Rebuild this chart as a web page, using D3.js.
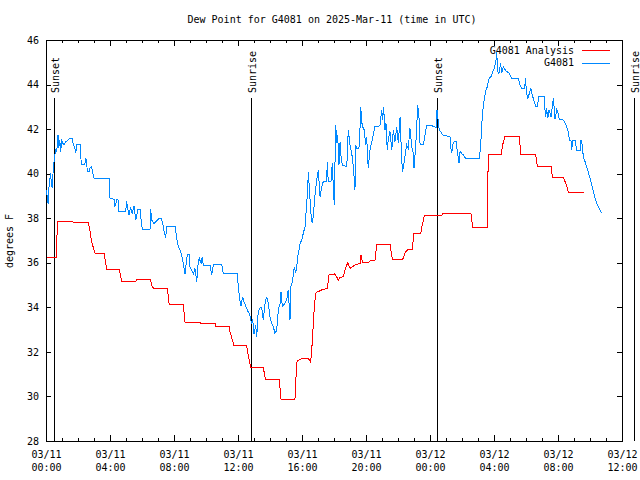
<!DOCTYPE html>
<html><head><meta charset="utf-8">
<script src="https://cdn.jsdelivr.net/npm/d3@7/dist/d3.min.js"></script>
<style>body{margin:0;background:#fff}svg{display:block}</style>
</head><body>
<svg id="c" width="640" height="480"></svg>
<script>
const chartTitle = "Dew Point for G4081 on 2025-Mar-11 (time in UTC)";
const yAxisLabel = "degrees F";
const seriesNames = ["G4081 Analysis", "G4081"];
const seriesColors = ["#ff0000", "#0088ff"];
const yTickValues = [28, 30, 32, 34, 36, 38, 40, 42, 44, 46];
const xMajorHours = [0, 4, 8, 12, 16, 20, 24, 28, 32, 36];
const eventNames = ["Sunset", "Sunrise", "Sunset", "Sunrise"];
const eventHours = [0.52, 12.83, 24.46, 36.77];

// hours since 2025-03-11 00:00 UTC
const anaHours = [0.04,0.64,0.68,0.71,1.64,1.71,2.64,2.71,2.85,3.06,3.63,3.79,4.58,4.73,5.63,5.65,6.54,6.62,6.75,7.58,7.7,8.58,8.69,9.63,9.65,10.58,10.6,11.46,11.5,11.65,11.75,12.54,12.65,12.81,13.58,13.73,14.58,14.69,15.56,15.67,15.73,16.0,16.39,16.54,16.67,16.71,16.81,16.88,17.23,17.58,17.69,18.06,18.27,18.38,18.58,18.69,18.86,19.0,19.31,19.63,19.69,19.79,20.14,20.31,20.56,20.67,21.5,21.65,22.29,22.48,22.64,22.89,23.0,23.42,23.52,23.64,24.69,24.83,26.56,26.67,27.58,27.64,28.44,28.54,28.69,29.58,29.67,30.6,30.71,31.6,31.64,32.33,32.54,32.64,33.63];
const anaValues = [36.23,36.23,37.0,37.87,37.87,37.82,37.82,37.6,36.95,36.43,36.43,35.71,35.71,35.18,35.18,35.23,35.23,34.95,34.85,34.85,34.14,34.14,33.33,33.33,33.29,33.29,33.16,33.16,32.9,32.53,32.28,32.28,31.78,31.29,31.29,30.74,30.74,29.88,29.88,31.53,31.6,31.71,31.71,31.53,32.68,33.43,34.33,34.66,34.78,34.85,35.45,35.5,35.23,35.35,35.37,35.67,36.02,35.75,35.9,35.97,36.35,36.0,36.0,36.12,36.12,36.83,36.83,36.15,36.15,36.5,36.6,36.6,37.32,37.32,37.7,38.1,38.1,38.22,38.22,37.59,37.59,40.84,40.84,41.29,41.69,41.69,40.88,40.87,40.31,40.31,39.82,39.82,39.49,39.16,39.16];

const obsHours = [0.04,0.08,0.13,0.19,0.25,0.29,0.33,0.39,0.46,0.54,0.61,0.67,0.71,0.75,0.79,0.86,0.92,0.98,1.06,1.13,1.23,1.38,1.5,1.64,1.71,1.79,1.86,1.92,2.13,2.21,2.42,2.48,2.54,2.58,2.69,2.75,2.83,2.89,3.0,3.94,4.0,4.25,4.31,4.42,4.5,4.56,4.98,5.04,5.08,5.19,5.29,5.39,5.5,5.61,5.75,5.88,5.92,6.02,6.5,6.54,6.61,6.75,7.06,7.21,7.29,7.39,7.48,7.54,8.06,8.17,8.27,8.38,8.48,8.58,8.69,8.75,8.83,8.94,9.0,9.1,9.21,9.31,9.42,9.52,9.58,9.69,9.77,9.83,10.25,10.35,10.46,10.56,10.98,11.08,11.96,12.02,12.13,12.19,12.29,12.38,12.5,12.58,12.69,12.75,12.86,12.92,13.0,13.11,13.17,13.25,13.33,13.48,13.58,13.69,13.79,13.89,14.0,14.1,14.21,14.31,14.42,14.52,14.63,14.69,14.77,14.94,15.04,15.14,15.25,15.31,15.42,15.52,15.6,15.67,15.73,15.81,15.88,15.98,16.08,16.19,16.25,16.36,16.39,16.46,16.56,16.64,16.71,16.81,16.92,17.02,17.13,17.23,17.33,17.54,17.58,17.64,17.81,17.89,17.96,18.02,18.06,18.11,18.17,18.23,18.31,18.38,18.44,18.52,18.8,18.89,19.0,19.11,19.21,19.31,19.36,19.42,19.56,19.63,19.67,19.73,19.79,19.89,19.98,20.04,20.14,20.25,20.36,20.56,20.77,20.88,20.98,21.04,21.1,21.19,21.25,21.33,21.39,21.5,21.61,21.71,21.81,21.92,22.02,22.13,22.23,22.29,22.39,22.54,22.64,22.75,22.86,22.96,23.0,23.11,23.17,23.23,23.31,23.38,23.58,23.79,24.1,24.21,24.38,24.44,24.52,24.58,24.67,24.73,24.83,25.25,25.29,25.36,25.42,25.5,25.63,25.71,25.81,25.88,25.98,26.08,26.25,27.08,27.17,27.23,27.29,27.38,27.5,27.58,27.64,27.71,27.81,27.92,28.02,28.13,28.17,28.23,28.31,28.42,28.48,28.58,28.75,28.96,29.11,29.52,29.63,29.73,29.92,29.96,30.04,30.11,30.21,30.31,30.39,30.52,30.61,30.73,30.77,31.14,31.19,31.23,31.29,31.36,31.44,31.5,31.56,31.64,31.71,31.77,31.81,31.92,32.02,32.08,32.33,32.44,32.54,32.64,32.71,32.81,32.86,32.92,33.06,33.17,33.38,33.44,33.52,33.58,33.69,33.79,33.89,34.0,34.11,34.21,34.31,34.42,34.52,34.63,34.73];
const obsValues = [39.27,38.9,38.66,39.41,39.79,40.02,39.57,39.34,40.31,40.76,41.06,40.99,41.36,41.73,41.14,41.51,40.99,41.48,41.36,41.29,41.43,41.51,41.59,41.59,41.29,41.21,40.91,41.29,41.29,40.39,40.39,40.69,40.54,40.09,40.09,40.24,40.31,40.16,39.79,39.79,38.9,38.85,38.52,38.82,38.82,38.3,38.3,38.79,38.55,38.14,38.49,38.2,38.55,37.92,38.4,38.4,38.07,37.5,37.5,38.4,37.92,37.77,37.99,37.97,37.77,37.39,37.1,37.62,37.65,37.1,36.72,36.57,36.35,35.97,35.5,35.9,36.35,36.35,35.82,35.67,35.5,35.75,35.15,36.05,36.2,35.97,36.27,35.9,35.9,35.45,35.9,35.94,35.94,35.5,35.5,34.93,34.25,34.06,34.48,34.25,34.03,33.88,33.73,33.6,33.25,33.45,32.8,33.2,32.65,33.65,33.96,34.0,33.43,34.18,34.48,34.18,33.58,33.28,33.13,32.83,32.98,33.88,34.18,34.7,34.03,34.18,34.33,34.78,33.43,34.93,35.23,35.82,35.53,35.82,36.27,36.57,36.87,37.02,37.32,37.62,38.22,39.34,40.09,39.34,38.22,37.77,38.14,39.04,39.71,40.16,38.96,39.41,39.64,39.64,40.54,39.64,39.64,40.46,39.34,38.59,40.39,42.18,41.36,41.73,40.39,41.43,40.76,40.39,40.31,41.96,41.29,40.91,40.31,39.27,41.29,41.14,41.14,42.11,43.0,42.33,42.11,41.96,41.29,41.66,40.24,41.06,41.43,42.11,42.11,42.18,42.86,42.41,43.0,41.96,42.26,41.06,41.51,41.89,41.06,41.96,41.43,42.11,41.36,42.56,40.61,40.09,40.54,41.29,41.14,42.03,41.21,40.91,40.24,41.29,42.11,43.08,42.56,41.29,41.29,42.18,42.18,42.11,42.08,42.86,42.33,41.96,41.89,41.81,41.73,41.66,41.21,40.91,41.29,41.43,41.43,40.99,40.46,40.99,40.91,40.84,40.66,40.66,41.29,42.11,42.78,43.3,43.75,43.9,44.13,44.28,44.35,44.58,44.73,45.1,45.47,44.58,44.5,44.95,44.5,44.8,44.61,44.5,44.28,44.28,43.98,43.83,43.83,44.3,43.6,43.38,43.6,43.83,43.53,43.23,43.0,43.0,43.45,43.45,42.86,42.56,42.93,42.48,42.86,42.71,42.53,43.0,43.38,42.86,42.45,42.86,42.71,42.44,42.41,42.26,42.11,41.89,41.51,41.51,41.06,41.51,41.51,41.06,41.06,41.51,41.29,40.76,40.54,40.31,40.09,39.79,39.49,39.19,38.9,38.66,38.52,38.37,38.22];

const t0 = Date.UTC(2025, 2, 11, 0, 0);
const toDate = h => new Date(t0 + h * 3600000);

const L = 46, R = 622, T = 40, B = 441;
const FONT = "'DejaVu Sans Mono', 'Liberation Mono', monospace";

const svg = d3.select("#c");
svg.append("rect").attr("width", 640).attr("height", 480).attr("fill", "#fff");

const x = d3.scaleUtc().domain([toDate(0), toDate(36)]).range([L, R]);
const y = d3.scaleLinear().domain([28, 46]).range([B, T]);

const hourly = d3.range(0, 37).map(toDate);
const majors = xMajorHours.map(toDate);

function styleAxis(g) {
  g.select(".domain").remove();
  g.selectAll("line").attr("stroke", "#000").attr("shape-rendering", "crispEdges");
}

svg.append("g").attr("transform", `translate(0,${B})`)
  .call(d3.axisBottom(x).tickValues(hourly).tickSize(-3).tickFormat(""))
  .call(styleAxis);
svg.append("g").attr("transform", `translate(0,${T})`)
  .call(d3.axisTop(x).tickValues(hourly).tickSize(-3).tickFormat(""))
  .call(styleAxis);
const fmtD = d3.utcFormat("%m/%d"), fmtH = d3.utcFormat("%H:%M");
const xb = svg.append("g").attr("transform", `translate(0,${B})`)
  .call(d3.axisBottom(x).tickValues(majors).tickSize(-6).tickFormat(""))
  .call(styleAxis);
xb.selectAll(".tick").each(function(d) {
  const t = d3.select(this).append("text")
    .attr("fill", "#000").attr("text-anchor", "middle")
    .style("font-family", FONT).style("font-size", "10px");
  t.append("tspan").attr("x", 0).attr("y", 17).text(fmtD(d));
  t.append("tspan").attr("x", 0).attr("y", 30).text(fmtH(d));
});
svg.append("g").attr("transform", `translate(0,${T})`)
  .call(d3.axisTop(x).tickValues(majors).tickSize(-6).tickFormat(""))
  .call(styleAxis);

const yl = svg.append("g").attr("transform", `translate(${L},0)`)
  .call(d3.axisLeft(y).tickValues(yTickValues).tickSize(-5).tickPadding(7).tickFormat(d3.format("d")))
  .call(styleAxis);
yl.selectAll("text").style("font-family", FONT).style("font-size", "10px").attr("fill", "#000");
svg.append("g").attr("transform", `translate(${R},0)`)
  .call(d3.axisRight(y).tickValues(yTickValues).tickSize(-5).tickFormat(""))
  .call(styleAxis);

svg.append("rect").attr("x", L).attr("y", T).attr("width", R - L).attr("height", B - T)
  .attr("fill", "none").attr("stroke", "#000").attr("shape-rendering", "crispEdges");

eventHours.forEach((h, i) => {
  const ex = Math.round(x(toDate(h))) + 0.5;
  svg.append("line").attr("x1", ex).attr("x2", ex).attr("y1", 98).attr("y2", B)
    .attr("stroke", "#000").attr("stroke-width", 1).attr("shape-rendering", "crispEdges");
  svg.append("text").attr("transform", `translate(${ex + 4},93) rotate(-90)`)
    .attr("text-anchor", "start").style("font-family", FONT).style("font-size", "10px")
    .attr("fill", "#000").text(eventNames[i]);
});

const line = d3.line().x(d => x(toDate(d[0]))).y(d => y(d[1]));
const anaData = anaHours.map((h, i) => [h, anaValues[i]]);
const obsData = obsHours.map((h, i) => [h, obsValues[i]]);
svg.append("path").datum(anaData).attr("d", line).attr("fill", "none")
  .attr("stroke", seriesColors[0]).attr("stroke-width", 1).attr("shape-rendering", "crispEdges");
svg.append("path").datum(obsData).attr("d", line).attr("fill", "none")
  .attr("stroke", seriesColors[1]).attr("stroke-width", 1).attr("shape-rendering", "crispEdges");

seriesNames.forEach((n, i) => {
  const ly = 50 + i * 12.5;
  svg.append("text").attr("x", 574).attr("y", ly + 3.5).attr("text-anchor", "end")
    .style("font-family", FONT).style("font-size", "10px").attr("fill", "#000").text(n);
  svg.append("line").attr("x1", 582).attr("x2", 610).attr("y1", Math.round(ly) + 0.5).attr("y2", Math.round(ly) + 0.5)
    .attr("stroke", seriesColors[i]).attr("stroke-width", 1).attr("shape-rendering", "crispEdges");
});

svg.append("text").attr("x", 332).attr("y", 23).attr("text-anchor", "middle")
  .style("font-family", FONT).style("font-size", "10px").attr("fill", "#000").text(chartTitle);
svg.append("text").attr("transform", "translate(13,241) rotate(-90)").attr("text-anchor", "middle")
  .style("font-family", FONT).style("font-size", "10px").attr("fill", "#000").text(yAxisLabel);
</script>
</body></html>
